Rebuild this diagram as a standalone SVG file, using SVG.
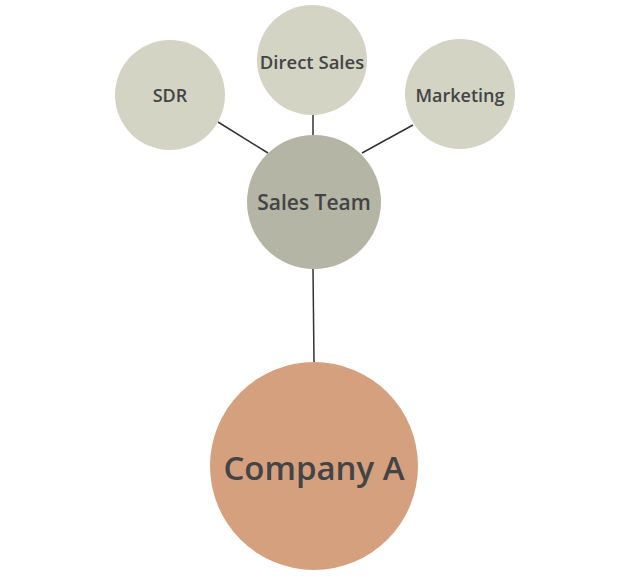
<svg xmlns="http://www.w3.org/2000/svg" width="630" height="577" viewBox="0 0 630 577">
<style>
.l{stroke:#333;stroke-width:1.5;fill:none}
.s{fill:#D3D4C4}
.t{font-family:"Open Sans","Liberation Sans",sans-serif;font-weight:600;fill:#444;text-anchor:middle;dominant-baseline:central}
</style>
<rect width="630" height="577" fill="#fff"/>
<g id="connectors">
<line class="l" x1="218" y1="122" x2="268" y2="153"/>
<line class="l" x1="313" y1="114" x2="313" y2="135"/>
<line class="l" x1="413" y1="125" x2="362" y2="153"/>
<line class="l" x1="313" y1="269" x2="314" y2="362"/>
</g>
<g id="sdr"><circle class="s" cx="170" cy="95" r="55"/><text class="t" x="170" y="95" font-size="18">SDR</text></g>
<g id="direct"><circle class="s" cx="312" cy="60" r="55"/><text class="t" x="312" y="61" font-size="18.5">Direct Sales</text></g>
<g id="marketing"><circle class="s" cx="460" cy="94" r="55"/><text class="t" x="460" y="95" font-size="18">Marketing</text></g>
<g id="sales"><circle cx="314" cy="202" r="67" fill="#B4B5A5"/><text class="t" x="314" y="202" font-size="21">Sales Team</text></g>
<g id="company"><circle cx="314" cy="466" r="104" fill="#D4A07E"/><text class="t" x="314" y="467" font-size="33">Company A</text></g>
</svg>
